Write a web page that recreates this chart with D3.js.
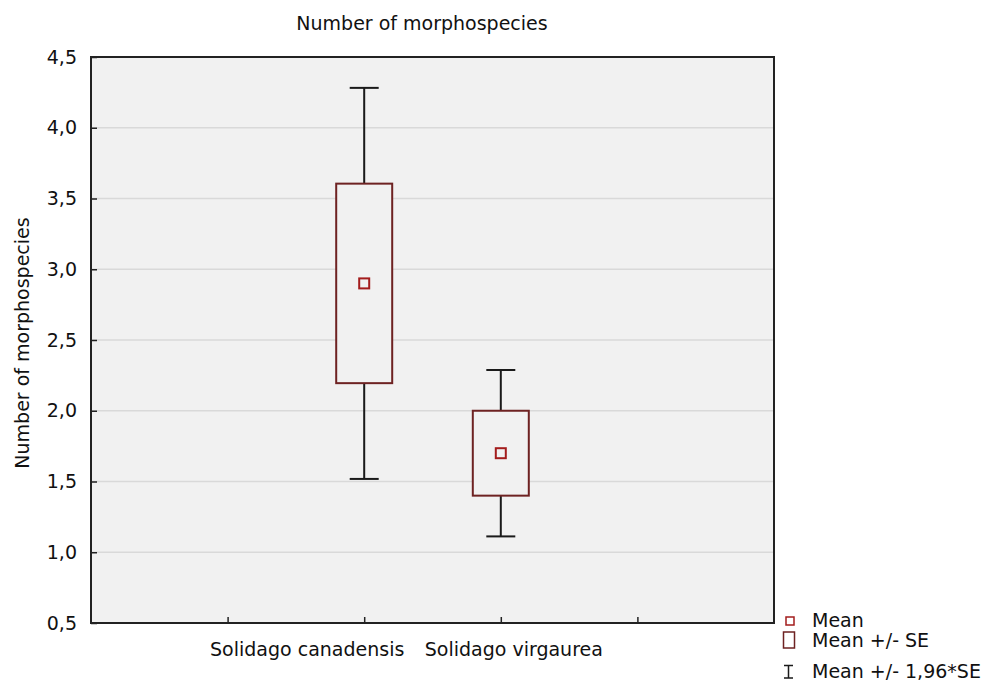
<!DOCTYPE html>
<html>
<head>
<meta charset="utf-8">
<script src="https://cdn.jsdelivr.net/npm/d3@7"></script>
<style>
  html, body { margin: 0; padding: 0; background: #fff; }
  svg { display: block; }
  text { font-family: "DejaVu Sans", sans-serif; fill: #111; }
</style>
</head>
<body>
<svg id="chart" width="990" height="681"></svg>
<script>
// Species compared and their summary statistics
const categories = ["Solidago canadensis", "Solidago virgaurea"];
const categorySlots = [2, 3];          // position on the 0..5 category axis
const means = [2.90, 1.70];
const standardErrors = [0.705, 0.30];
const yTicks = [0.5, 1.0, 1.5, 2.0, 2.5, 3.0, 3.5, 4.0, 4.5];
const xTickSlots = [1, 2, 3, 4];
const legendLabels = ["Mean", "Mean +/- SE", "Mean +/- 1,96*SE"];

const svg = d3.select("#chart");
const plot = { left: 91, right: 774, top: 57, bottom: 623 };
const fontSize = "19px";
// horizontal nudges so the two long category names do not collide
const labelShift = [-57, 13];

const x = d3.scaleLinear().domain([0, 5]).range([plot.left, plot.right]);
const y = d3.scaleLinear().domain([0.5, 4.5]).range([plot.bottom, plot.top]);

const fmt = d => d.toFixed(1).replace(".", ",");

// plot background
svg.append("rect")
  .attr("x", plot.left).attr("y", plot.top)
  .attr("width", plot.right - plot.left).attr("height", plot.bottom - plot.top)
  .attr("fill", "#f1f1f1");

// horizontal grid
svg.append("g").selectAll("line")
  .data(yTicks.filter(t => t > 0.5 && t < 4.5))
  .join("line")
  .attr("x1", plot.left).attr("x2", plot.right)
  .attr("y1", d => y(d)).attr("y2", d => y(d))
  .attr("stroke", "#d9d9d9").attr("stroke-width", 1.5);

// y axis
const yAxis = svg.append("g")
  .attr("transform", `translate(${plot.left},0)`)
  .call(d3.axisLeft(y).tickValues(yTicks).tickFormat(fmt).tickSize(-6).tickPadding(14));
yAxis.select(".domain").remove();
yAxis.selectAll(".tick line").attr("stroke", "#222").attr("stroke-width", 1.5);
yAxis.selectAll(".tick text")
  .style("font-family", "'DejaVu Sans', sans-serif")
  .style("font-size", fontSize).attr("fill", "#111");

// x axis
const xAxis = svg.append("g")
  .attr("transform", `translate(0,${plot.bottom})`)
  .call(d3.axisBottom(x).tickValues(xTickSlots).tickFormat("").tickSize(-6));
xAxis.select(".domain").remove();
xAxis.selectAll(".tick line").attr("stroke", "#222").attr("stroke-width", 1.5);

// category labels
svg.append("g").selectAll("text")
  .data(categories)
  .join("text")
  .attr("x", (d, i) => x(categorySlots[i]) + labelShift[i])
  .attr("y", 656)
  .attr("text-anchor", "middle")
  .style("font-size", fontSize)
  .text(d => d);

// frame
svg.append("rect")
  .attr("x", plot.left).attr("y", plot.top)
  .attr("width", plot.right - plot.left).attr("height", plot.bottom - plot.top)
  .attr("fill", "none").attr("stroke", "#222").attr("stroke-width", 2);

// title and y label
svg.append("text")
  .attr("x", 422).attr("y", 30)
  .attr("text-anchor", "middle").style("font-size", fontSize)
  .text("Number of morphospecies");
svg.append("text")
  .attr("transform", `translate(29,${(plot.top + plot.bottom) / 2 + 3}) rotate(-90)`)
  .attr("text-anchor", "middle").style("font-size", fontSize)
  .text("Number of morphospecies");

// whiskers (mean +/- 1.96*SE)
const capHalf = 14.5;
const groups = svg.append("g").selectAll("g")
  .data(categories.map((c, i) => ({
    cx: x(categorySlots[i]), mean: means[i], se: standardErrors[i]
  })))
  .join("g");

groups.append("line")
  .attr("x1", d => d.cx).attr("x2", d => d.cx)
  .attr("y1", d => y(d.mean + 1.96 * d.se)).attr("y2", d => y(d.mean - 1.96 * d.se))
  .attr("stroke", "#1a1a1a").attr("stroke-width", 2);
groups.selectAll(".cap")
  .data(d => [d.mean + 1.96 * d.se, d.mean - 1.96 * d.se].map(v => ({ cx: d.cx, v })))
  .join("line")
  .attr("class", "cap")
  .attr("x1", d => d.cx - capHalf).attr("x2", d => d.cx + capHalf)
  .attr("y1", d => y(d.v)).attr("y2", d => y(d.v))
  .attr("stroke", "#1a1a1a").attr("stroke-width", 2);

// boxes (mean +/- SE)
const boxHalf = 28;
groups.append("rect")
  .attr("x", d => d.cx - boxHalf)
  .attr("y", d => y(d.mean + d.se))
  .attr("width", boxHalf * 2)
  .attr("height", d => y(d.mean - d.se) - y(d.mean + d.se))
  .attr("fill", "#f1f1f1").attr("stroke", "#6e2222").attr("stroke-width", 2);

// mean markers
const markHalf = 5;
groups.append("rect")
  .attr("x", d => d.cx - markHalf).attr("y", d => y(d.mean) - markHalf)
  .attr("width", markHalf * 2).attr("height", markHalf * 2)
  .attr("fill", "none").attr("stroke", "#a31c1c").attr("stroke-width", 2);

// legend
const legend = svg.append("g");
legend.append("rect")
  .attr("x", 786).attr("y", 617).attr("width", 8).attr("height", 8)
  .attr("fill", "none").attr("stroke", "#a31c1c").attr("stroke-width", 1.5);
legend.append("rect")
  .attr("x", 783.5).attr("y", 632).attr("width", 11).attr("height", 16)
  .attr("fill", "none").attr("stroke", "#6e2222").attr("stroke-width", 1.5);
legend.append("path")
  .attr("d", "M784,665.5H793M788.5,665.5V678M784,678H793")
  .attr("fill", "none").attr("stroke", "#1a1a1a").attr("stroke-width", 1.5);
legend.selectAll("text")
  .data(legendLabels)
  .join("text")
  .attr("x", 812)
  .attr("y", (d, i) => [627, 647, 678][i])
  .style("font-size", fontSize)
  .text(d => d);
</script>
</body>
</html>
